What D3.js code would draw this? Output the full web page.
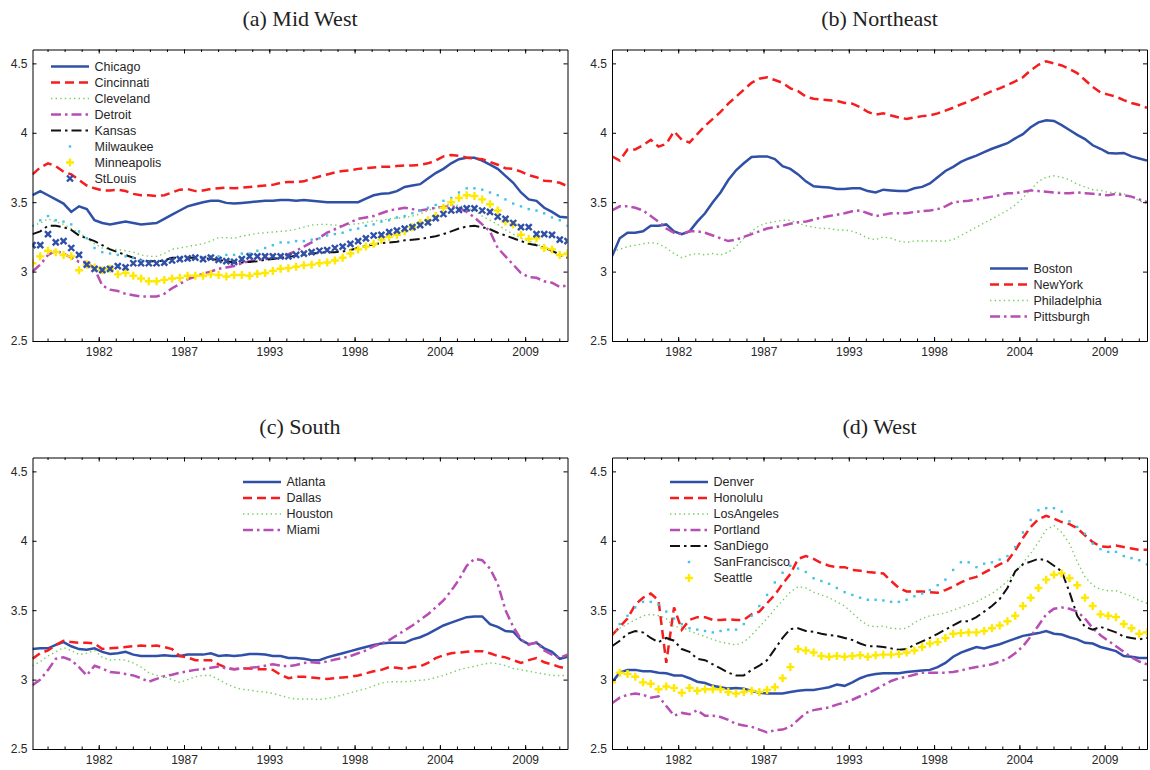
<!DOCTYPE html>
<html>
<head>
<meta charset="utf-8">
<script src="https://cdn.jsdelivr.net/npm/d3@7"></script>
<style>
  body { margin: 0; background: #fff; }
  .tick text { font-family: "Liberation Sans", Arial, sans-serif; font-size: 12px; fill: #262626; }
  .legend text { font-family: "Liberation Sans", Arial, sans-serif; font-size: 12.5px; fill: #262626; }
  .title { font-family: "Liberation Serif", "Times New Roman", serif; font-size: 22px; fill: #222; }
</style>
</head>
<body>
<div id="chart"></div>
<script>
// half-year observations, 1978 to 2012.5
var periods = d3.range(0, 70).map(i => 1978 + i * 0.5);

var xTickVals = [1982.27, 1987.77, 1993.27, 1998.77, 2004.27, 2009.77];
var xTickLabels = ["1982", "1987", "1993", "1998", "2004", "2009"];
var yTickVals = [2.5, 3, 3.5, 4, 4.5];
var yTickLabels = ["2.5", "3", "3.5", "4", "4.5"];

// (a) Mid West
var chicago = [3.55,3.58,3.55,3.52,3.49,3.43,3.47,3.45,3.37,3.35, 3.34,3.35,3.36,3.35,3.34,3.345,3.35,3.38,3.41,3.44, 3.47,3.485,3.50,3.51,3.51,3.495,3.49,3.495,3.50,3.505, 3.51,3.51,3.515,3.515,3.51,3.515,3.51,3.505,3.50,3.50, 3.50,3.50,3.50,3.525,3.55,3.56,3.565,3.58,3.61,3.62, 3.63,3.67,3.71,3.74,3.78,3.81,3.82,3.82,3.80,3.77, 3.74,3.69,3.64,3.57,3.52,3.51,3.46,3.43,3.395,3.39];
var cincinnati = [3.70,3.75,3.78,3.76,3.72,3.70,3.66,3.62,3.60,3.585, 3.585,3.59,3.58,3.56,3.55,3.55,3.545,3.55,3.57,3.59, 3.595,3.58,3.585,3.595,3.60,3.605,3.60,3.605,3.61,3.615, 3.62,3.625,3.64,3.645,3.645,3.65,3.67,3.685,3.70,3.715, 3.725,3.73,3.74,3.745,3.75,3.755,3.755,3.76,3.765,3.765, 3.77,3.78,3.80,3.83,3.84,3.835,3.82,3.815,3.81,3.79, 3.77,3.745,3.74,3.72,3.695,3.68,3.655,3.65,3.64,3.615];
var cleveland = [3.33,3.35,3.38,3.36,3.34,3.31,3.28,3.24,3.20,3.17, 3.16,3.16,3.15,3.14,3.12,3.11,3.11,3.13,3.16,3.17, 3.18,3.19,3.20,3.22,3.245,3.245,3.24,3.255,3.265,3.275, 3.28,3.285,3.29,3.295,3.305,3.32,3.335,3.34,3.34,3.335, 3.33,3.34,3.345,3.355,3.365,3.37,3.38,3.385,3.39,3.40, 3.415,3.44,3.46,3.48,3.485,3.475,3.46,3.44,3.40,3.37, 3.34,3.30,3.27,3.24,3.22,3.20,3.17,3.15,3.13,3.12];
var detroit = [3.00,3.05,3.12,3.15,3.13,3.10,3.07,3.07,3.02,2.90, 2.87,2.86,2.84,2.83,2.82,2.82,2.82,2.84,2.88,2.91, 2.945,2.965,2.985,3.00,3.02,3.03,3.04,3.06,3.075,3.085, 3.09,3.095,3.10,3.125,3.15,3.18,3.21,3.245,3.28,3.305, 3.33,3.355,3.38,3.39,3.40,3.42,3.44,3.45,3.46,3.45, 3.44,3.45,3.46,3.465,3.47,3.46,3.43,3.39,3.34,3.29, 3.17,3.11,3.05,2.99,2.96,2.955,2.93,2.92,2.89,2.90];
var kansas = [3.27,3.29,3.33,3.33,3.32,3.30,3.26,3.24,3.22,3.19, 3.16,3.14,3.12,3.10,3.085,3.075,3.075,3.08,3.10,3.10, 3.10,3.10,3.10,3.09,3.085,3.075,3.065,3.065,3.07,3.075, 3.085,3.09,3.10,3.105,3.115,3.125,3.13,3.135,3.14,3.14, 3.145,3.155,3.17,3.185,3.195,3.205,3.21,3.215,3.225,3.23, 3.235,3.245,3.255,3.27,3.29,3.31,3.325,3.33,3.32,3.305, 3.28,3.26,3.24,3.22,3.20,3.19,3.17,3.15,3.12,3.10];
var milwaukee = [3.33,3.37,3.40,3.37,3.36,3.34,3.29,3.24,3.17,3.14, 3.13,3.12,3.11,3.10,3.08,3.07,3.06,3.07,3.08,3.09, 3.09,3.10,3.10,3.11,3.11,3.12,3.12,3.13,3.13,3.15, 3.17,3.19,3.21,3.21,3.22,3.22,3.23,3.24,3.26,3.27, 3.28,3.30,3.31,3.33,3.34,3.36,3.37,3.39,3.40,3.42, 3.44,3.46,3.48,3.51,3.53,3.57,3.60,3.60,3.59,3.57, 3.55,3.52,3.49,3.47,3.45,3.44,3.42,3.39,3.37,3.33];
var minneapolis = [3.06,3.11,3.15,3.14,3.12,3.11,3.01,3.05,3.03,3.01, 3.02,2.98,2.99,2.97,2.95,2.93,2.93,2.94,2.95,2.955, 2.97,2.97,2.97,2.98,2.975,2.965,2.975,2.975,2.97,2.985, 2.99,3.005,3.02,3.025,3.035,3.045,3.05,3.06,3.065,3.08, 3.10,3.13,3.16,3.18,3.20,3.23,3.25,3.265,3.29,3.32, 3.35,3.37,3.40,3.46,3.50,3.53,3.55,3.545,3.52,3.485, 3.44,3.36,3.34,3.265,3.235,3.24,3.17,3.16,3.12,3.13];
var stLouis = [3.19,3.19,3.27,3.21,3.22,3.17,3.12,3.05,3.02,3.01, 3.02,3.04,3.03,3.06,3.06,3.06,3.06,3.065,3.08,3.09, 3.095,3.10,3.09,3.10,3.085,3.075,3.07,3.09,3.11,3.11, 3.11,3.11,3.11,3.11,3.12,3.13,3.14,3.15,3.155,3.17, 3.18,3.20,3.22,3.24,3.26,3.265,3.285,3.295,3.31,3.32, 3.335,3.355,3.385,3.415,3.44,3.445,3.455,3.455,3.44,3.43, 3.395,3.38,3.35,3.32,3.32,3.27,3.27,3.265,3.23,3.22];

// (b) Northeast
var boston = [3.11,3.24,3.28,3.28,3.29,3.33,3.33,3.34,3.29,3.27, 3.29,3.36,3.42,3.50,3.57,3.66,3.73,3.78,3.825,3.83, 3.83,3.81,3.76,3.74,3.70,3.65,3.615,3.61,3.605,3.595, 3.595,3.60,3.60,3.58,3.57,3.59,3.585,3.58,3.58,3.60, 3.61,3.635,3.68,3.725,3.755,3.79,3.815,3.835,3.86,3.885, 3.905,3.925,3.96,3.99,4.04,4.075,4.09,4.085,4.055,4.02, 3.985,3.955,3.91,3.885,3.855,3.85,3.855,3.83,3.815,3.80];
var newYork = [3.83,3.80,3.88,3.88,3.91,3.95,3.90,3.92,4.01,3.95, 3.93,3.99,4.05,4.10,4.15,4.21,4.26,4.31,4.36,4.39, 4.40,4.38,4.36,4.32,4.30,4.26,4.245,4.24,4.235,4.23, 4.215,4.21,4.185,4.15,4.13,4.14,4.125,4.11,4.10,4.11, 4.12,4.125,4.14,4.16,4.18,4.205,4.225,4.25,4.275,4.30, 4.32,4.345,4.37,4.40,4.45,4.49,4.515,4.50,4.485,4.46, 4.43,4.38,4.33,4.29,4.275,4.26,4.235,4.215,4.20,4.18];
var philadelphia = [3.15,3.16,3.18,3.19,3.20,3.21,3.20,3.17,3.13,3.10, 3.12,3.13,3.12,3.13,3.12,3.14,3.18,3.24,3.29,3.33, 3.35,3.36,3.37,3.37,3.35,3.33,3.32,3.31,3.31,3.30, 3.30,3.29,3.27,3.24,3.23,3.25,3.24,3.22,3.21,3.22, 3.22,3.22,3.22,3.22,3.23,3.26,3.29,3.32,3.35,3.38, 3.41,3.44,3.48,3.53,3.59,3.65,3.68,3.69,3.68,3.66, 3.63,3.61,3.59,3.585,3.57,3.57,3.56,3.54,3.51,3.49];
var pittsburgh = [3.44,3.47,3.47,3.46,3.44,3.40,3.36,3.31,3.28,3.27, 3.29,3.29,3.28,3.26,3.24,3.22,3.23,3.25,3.27,3.29, 3.31,3.32,3.33,3.345,3.355,3.36,3.375,3.39,3.40,3.41, 3.42,3.435,3.44,3.42,3.40,3.41,3.42,3.42,3.42,3.43, 3.435,3.44,3.45,3.47,3.50,3.505,3.51,3.52,3.53,3.54, 3.55,3.565,3.565,3.575,3.585,3.58,3.575,3.57,3.565,3.565, 3.57,3.565,3.56,3.555,3.55,3.56,3.55,3.54,3.52,3.50];

// (c) South
var atlanta = [3.22,3.225,3.225,3.25,3.27,3.24,3.22,3.215,3.225,3.20, 3.185,3.19,3.20,3.18,3.17,3.17,3.17,3.175,3.17,3.17, 3.18,3.18,3.18,3.19,3.17,3.175,3.17,3.175,3.185,3.185, 3.18,3.17,3.17,3.155,3.155,3.15,3.14,3.14,3.16,3.175, 3.19,3.205,3.22,3.235,3.25,3.26,3.265,3.265,3.265,3.29, 3.305,3.33,3.36,3.39,3.41,3.43,3.45,3.455,3.455,3.40, 3.38,3.35,3.345,3.285,3.255,3.265,3.225,3.20,3.15,3.165];
var dallas = [3.15,3.19,3.21,3.25,3.28,3.27,3.265,3.265,3.26,3.22, 3.225,3.23,3.235,3.24,3.245,3.24,3.245,3.235,3.22,3.17, 3.16,3.14,3.14,3.14,3.11,3.085,3.075,3.08,3.08,3.075, 3.075,3.07,3.035,3.01,3.02,3.02,3.015,3.01,3.005,3.01, 3.015,3.02,3.03,3.045,3.06,3.07,3.09,3.085,3.075,3.09, 3.095,3.12,3.155,3.175,3.19,3.195,3.20,3.205,3.205,3.19, 3.17,3.16,3.14,3.12,3.14,3.155,3.125,3.11,3.09,3.08];
var houston = [3.10,3.13,3.17,3.20,3.23,3.21,3.18,3.19,3.21,3.16, 3.14,3.145,3.14,3.12,3.09,3.05,3.03,3.02,3.00,2.98, 3.00,3.02,3.03,3.03,3.00,2.97,2.945,2.93,2.925,2.915, 2.91,2.90,2.885,2.87,2.86,2.86,2.86,2.855,2.865,2.875, 2.89,2.905,2.92,2.935,2.955,2.975,2.985,2.985,2.985,2.99, 2.995,3.00,3.015,3.03,3.05,3.07,3.085,3.095,3.11,3.12, 3.115,3.10,3.08,3.07,3.06,3.05,3.04,3.03,3.03,3.03];
var miami = [2.96,3.00,3.07,3.15,3.16,3.14,3.09,3.03,3.10,3.08, 3.055,3.05,3.04,3.03,3.01,2.985,3.005,3.025,3.035,3.05, 3.06,3.07,3.075,3.085,3.095,3.08,3.075,3.08,3.085,3.09, 3.10,3.11,3.10,3.095,3.105,3.12,3.125,3.12,3.13,3.145, 3.155,3.17,3.19,3.21,3.24,3.26,3.285,3.32,3.355,3.39, 3.43,3.47,3.52,3.57,3.64,3.72,3.82,3.87,3.86,3.80, 3.69,3.50,3.38,3.29,3.25,3.27,3.21,3.18,3.155,3.18];

// (d) West
var denver = [2.98,3.05,3.07,3.07,3.06,3.06,3.05,3.045,3.03,3.03, 3.01,2.985,2.975,2.955,2.945,2.935,2.94,2.935,2.92,2.905, 2.90,2.90,2.90,2.91,2.92,2.925,2.925,2.935,2.945,2.965, 2.955,2.98,3.01,3.03,3.04,3.045,3.045,3.045,3.055,3.06, 3.065,3.07,3.09,3.12,3.165,3.195,3.215,3.235,3.225,3.24, 3.255,3.275,3.295,3.315,3.325,3.335,3.35,3.33,3.325,3.305, 3.29,3.265,3.26,3.235,3.22,3.205,3.17,3.165,3.155,3.155];
var honolulu = [3.32,3.38,3.44,3.54,3.59,3.62,3.57,3.12,3.52,3.36, 3.43,3.45,3.45,3.43,3.43,3.435,3.43,3.43,3.47,3.49, 3.55,3.61,3.69,3.76,3.87,3.89,3.87,3.84,3.82,3.81, 3.81,3.79,3.785,3.775,3.77,3.765,3.71,3.66,3.635,3.635, 3.635,3.63,3.625,3.645,3.67,3.70,3.725,3.74,3.77,3.80, 3.83,3.855,3.93,4.02,4.10,4.155,4.18,4.16,4.135,4.12, 4.09,4.04,3.99,3.96,3.955,3.965,3.955,3.945,3.935,3.935];
var losAngeles = [3.33,3.37,3.40,3.43,3.46,3.47,3.46,3.44,3.38,3.38, 3.35,3.33,3.31,3.29,3.27,3.26,3.25,3.27,3.32,3.38, 3.44,3.51,3.57,3.63,3.67,3.66,3.63,3.61,3.59,3.56, 3.53,3.48,3.43,3.39,3.38,3.385,3.37,3.365,3.37,3.41, 3.44,3.46,3.47,3.48,3.50,3.52,3.54,3.56,3.59,3.62, 3.66,3.71,3.77,3.84,3.91,3.99,4.08,4.11,4.06,3.98, 3.85,3.74,3.68,3.65,3.64,3.64,3.62,3.60,3.57,3.55];
var portland = [2.83,2.87,2.89,2.90,2.89,2.87,2.88,2.81,2.74,2.76, 2.75,2.78,2.74,2.74,2.73,2.71,2.68,2.67,2.66,2.64, 2.62,2.635,2.64,2.66,2.71,2.76,2.78,2.79,2.80,2.82, 2.835,2.855,2.88,2.90,2.93,2.96,2.99,3.01,3.02,3.035, 3.05,3.05,3.05,3.05,3.055,3.065,3.08,3.09,3.10,3.11, 3.13,3.15,3.19,3.24,3.31,3.39,3.47,3.51,3.52,3.51, 3.49,3.44,3.37,3.32,3.28,3.24,3.20,3.16,3.13,3.11];
var sanDiego = [3.24,3.28,3.33,3.35,3.34,3.30,3.27,3.30,3.28,3.22, 3.20,3.15,3.14,3.11,3.08,3.05,3.03,3.03,3.07,3.10, 3.14,3.22,3.30,3.365,3.37,3.35,3.345,3.33,3.32,3.315, 3.30,3.285,3.26,3.24,3.24,3.235,3.225,3.215,3.22,3.25, 3.275,3.30,3.33,3.36,3.39,3.42,3.42,3.45,3.49,3.53, 3.58,3.66,3.78,3.83,3.85,3.87,3.86,3.82,3.78,3.63, 3.46,3.38,3.36,3.38,3.36,3.34,3.31,3.30,3.29,3.30];
var sanFrancisco = [3.36,3.40,3.46,3.52,3.56,3.56,3.54,3.49,3.44,3.40, 3.37,3.36,3.35,3.34,3.35,3.36,3.36,3.40,3.46,3.53, 3.61,3.70,3.77,3.82,3.80,3.775,3.73,3.71,3.69,3.66, 3.63,3.61,3.59,3.575,3.575,3.57,3.56,3.56,3.575,3.60, 3.62,3.645,3.68,3.72,3.79,3.845,3.845,3.81,3.835,3.845, 3.865,3.89,3.955,4.06,4.15,4.22,4.235,4.235,4.21,4.14, 4.10,4.05,3.98,3.94,3.92,3.92,3.89,3.875,3.86,3.83];
var seattle = [2.98,3.05,3.04,3.02,2.98,2.97,2.93,2.95,2.94,2.905, 2.94,2.92,2.93,2.93,2.93,2.91,2.90,2.91,2.92,2.91, 2.925,2.945,3.01,3.09,3.22,3.21,3.195,3.17,3.165,3.17, 3.165,3.17,3.175,3.165,3.175,3.18,3.18,3.185,3.195,3.21, 3.235,3.26,3.27,3.30,3.33,3.335,3.34,3.34,3.35,3.37, 3.39,3.42,3.46,3.53,3.59,3.66,3.72,3.755,3.765,3.73, 3.68,3.59,3.53,3.47,3.46,3.45,3.40,3.37,3.33,3.34];

// line styles, used in the same order in every panel
var styles = [
  {type: "line", color: "#3050a8", width: 2.5, dash: null},
  {type: "line", color: "#f51d1d", width: 2.5, dash: "9,5"},
  {type: "line", color: "#74cf5c", width: 1.4, dash: "1.4,3.2"},
  {type: "line", color: "#b84db3", width: 2.5, dash: "10,4,2.5,4"},
  {type: "line", color: "#111111", width: 2, dash: "10,4,2.5,4"},
  {type: "dot", color: "#42c2e6"},
  {type: "plus", color: "#ffe900"},
  {type: "cross", color: "#3050a8"}
];

var plotW = 535, plotH = 291.5;

var panels = [
  {title: "(a) Mid West", x0: 32.5, y0: 49.5, legend: [51, 66.5],
   names: ["Chicago","Cincinnati","Cleveland","Detroit","Kansas","Milwaukee","Minneapolis","StLouis"],
   series: [chicago, cincinnati, cleveland, detroit, kansas, milwaukee, minneapolis, stLouis]},
  {title: "(b) Northeast", x0: 612, y0: 49.5, legend: [990, 268.5],
   names: ["Boston","NewYork","Philadelphia","Pittsburgh"],
   series: [boston, newYork, philadelphia, pittsburgh]},
  {title: "(c) South", x0: 32.5, y0: 457.5, legend: [243, 482],
   names: ["Atlanta","Dallas","Houston","Miami"],
   series: [atlanta, dallas, houston, miami]},
  {title: "(d) West", x0: 612, y0: 457.5, legend: [670, 482],
   names: ["Denver","Honolulu","LosAngeles","Portland","SanDiego","SanFrancisco","Seattle"],
   series: [denver, honolulu, losAngeles, portland, sanDiego, sanFrancisco, seattle]}
];

var svg = d3.select("#chart").append("svg")
  .attr("width", 1150)
  .attr("height", 770);

var x = d3.scaleLinear().domain([1978, 2012.5]).range([0, plotW]);
var y = d3.scaleLinear().domain([2.5, 4.6]).range([plotH, 0]);
var minorTicks = d3.range(1978.97, 2012.5, 1.1);

function drawMarker(g, type, color, px, py) {
  if (type === "dot") {
    g.append("rect").attr("x", px - 1.2).attr("y", py - 1.2)
      .attr("width", 2.4).attr("height", 2.4).attr("fill", color);
  } else if (type === "plus") {
    g.append("path").attr("d", `M${px-4},${py}H${px+4}M${px},${py-4}V${py+4}`)
      .attr("stroke", color).attr("stroke-width", 2.4).attr("fill", "none");
  } else {
    g.append("path").attr("d", `M${px-3},${py-3}L${px+3},${py+3}M${px-3},${py+3}L${px+3},${py-3}`)
      .attr("stroke", color).attr("stroke-width", 2.4).attr("fill", "none");
  }
}

panels.forEach(function(p, pi) {
  var g = svg.append("g").attr("transform", `translate(${p.x0}, ${p.y0})`);

  g.append("defs").append("clipPath").attr("id", "clip" + pi)
    .append("rect").attr("width", plotW).attr("height", plotH);

  // title
  g.append("text").attr("class", "title")
    .attr("x", plotW / 2).attr("y", -23.5)
    .attr("text-anchor", "middle")
    .text(p.title);

  var plot = g.append("g").attr("clip-path", `url(#clip${pi})`);

  var line = d3.line()
    .x((d, i) => x(periods[i]))
    .y(d => y(d));

  p.series.forEach(function(vals, si) {
    var st = styles[si];
    if (st.type === "line") {
      plot.append("path")
        .datum(vals)
        .attr("d", line)
        .attr("fill", "none")
        .attr("stroke", st.color)
        .attr("stroke-width", st.width)
        .attr("stroke-dasharray", st.dash);
    } else {
      var mg = plot.append("g");
      vals.forEach((v, i) => drawMarker(mg, st.type, st.color, x(periods[i]), y(v)));
    }
  });

  // axes, ticks pointing inward like the original
  g.append("g").attr("transform", `translate(0, ${plotH})`)
    .call(d3.axisBottom(x).tickValues(xTickVals)
      .tickFormat((d, i) => xTickLabels[i]).tickSizeInner(-4).tickSizeOuter(0).tickPadding(6));
  g.append("g").attr("transform", `translate(0, ${plotH})`)
    .call(d3.axisBottom(x).tickValues(minorTicks).tickFormat("").tickSizeInner(-2.5).tickSizeOuter(0))
    .select(".domain").remove();
  g.append("g")
    .call(d3.axisTop(x).tickValues(xTickVals).tickFormat("").tickSizeInner(-4).tickSizeOuter(0));
  g.append("g")
    .call(d3.axisTop(x).tickValues(minorTicks).tickFormat("").tickSizeInner(-2.5).tickSizeOuter(0))
    .select(".domain").remove();
  g.append("g")
    .call(d3.axisLeft(y).tickValues(yTickVals)
      .tickFormat((d, i) => yTickLabels[i]).tickSizeInner(-4).tickSizeOuter(0).tickPadding(5));
  g.append("g").attr("transform", `translate(${plotW}, 0)`)
    .call(d3.axisRight(y).tickValues(yTickVals).tickFormat("").tickSizeInner(-4).tickSizeOuter(0));

  g.selectAll(".domain").attr("stroke", "#000").attr("stroke-width", 1);
  g.selectAll(".tick line").attr("stroke", "#000");

  // legend, no box
  var lg = g.append("g").attr("class", "legend")
    .attr("transform", `translate(${p.legend[0] - p.x0}, ${p.legend[1] - p.y0})`);
  p.names.forEach(function(name, si) {
    var st = styles[si];
    var row = lg.append("g").attr("transform", `translate(0, ${si * 16})`);
    if (st.type === "line") {
      row.append("line").attr("x1", 0).attr("x2", 38).attr("y1", 0).attr("y2", 0)
        .attr("stroke", st.color).attr("stroke-width", st.width)
        .attr("stroke-dasharray", st.dash);
    } else {
      drawMarker(row, st.type, st.color, 19, 0);
    }
    row.append("text").attr("x", 43.5).attr("y", 0).attr("dy", "0.35em").text(name);
  });
});
</script>
</body>
</html>
